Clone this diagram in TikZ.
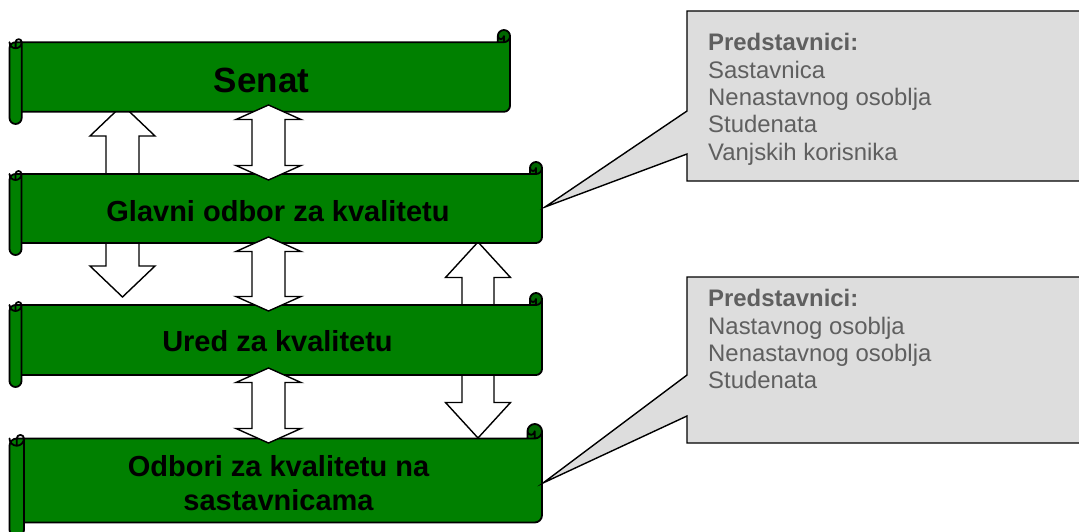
\documentclass[tikz,border=0pt]{standalone}
\usepackage{fontspec}
\setmainfont{Liberation Sans}
\definecolor{scrollgreen}{HTML}{008000}
\definecolor{curlgreen}{HTML}{006600}
\definecolor{callgray}{HTML}{DDDDDD}
\definecolor{calltextgray}{HTML}{5F5F5F}
\tikzset{
  scrollfill/.style={fill=scrollgreen},
  curlfill/.style={fill=curlgreen},
  scrolldraw/.style={draw=black, line width=1.8pt, line join=round, line cap=round},
  blockarrow/.style={fill=white, draw=black, line width=1.4pt, line join=miter},
  callout/.style={fill=callgray, draw=black, line width=1.4pt},
  scrolltext/.style={font=\bfseries\fontsize{29}{33.3}\selectfont, text=black, inner sep=0pt, align=center},
  calltext/.style={font=\fontsize{23.9}{27.35}\selectfont, text=calltextgray, inner sep=0pt, align=left},
}
% horizontal scroll: left, top, right, bottom, roll size (y grows downward)
\newcommand\myscroll[5]{%
  \pgfmathsetmacro\sL{#1}%
  \pgfmathsetmacro\sR{#3}%
  \pgfmathsetmacro\sH{#5/2}%
  \pgfmathsetmacro\sQ{#5/4}%
  \pgfmathsetmacro\yA{#2+#5/2}%
  \pgfmathsetmacro\yC{#2+#5}%
  \pgfmathsetmacro\yD{#2+1.5*#5}%
  \pgfmathsetmacro\yF{#4-1.5*#5}%
  \pgfmathsetmacro\yS{#4-#5}%
  \pgfmathsetmacro\yG{#4-#5/2}%
  \pgfmathsetmacro\xA{#1+#5/2}%
  \pgfmathsetmacro\xC{#1+#5}%
  \pgfmathsetmacro\xT{#3-#5}%
  \pgfmathsetmacro\xF{#3-#5/2}%
  \fill[scrollfill] (\sR,\yA) arc[start angle=0,delta angle=90,radius=\sH] -- (\xF,\yA)
    arc[start angle=0,delta angle=180,radius=\sQ] -- (\xT,\yC) -- (\xA,\yC)
    arc[start angle=270,delta angle=-90,radius=\sH] -- (\sL,\yG)
    arc[start angle=180,delta angle=-180,radius=\sH] -- (\xC,\yS) -- (\xF,\yS)
    arc[start angle=90,delta angle=-90,radius=\sH] -- cycle;
  \fill[curlfill] (\xF,\yA) circle[radius=\sH];
  \draw[scrolldraw] (\sL,\yD) arc[start angle=180,delta angle=90,radius=\sH] -- (\xT,\yC) -- (\xT,\yA)
    arc[start angle=180,delta angle=180,radius=\sH] -- (\sR,\yF)
    arc[start angle=0,delta angle=90,radius=\sH] -- (\xC,\yS) -- (\xC,\yG)
    arc[start angle=0,delta angle=180,radius=\sH] -- cycle
    (\xT,\yC) -- (\xF,\yC) arc[start angle=90,delta angle=-90,radius=\sH]
    (\xF,\yC) -- (\xF,\yA) arc[start angle=0,delta angle=180,radius=\sQ]
    (\xA,\yD) -- (\xA,\yC) arc[start angle=180,delta angle=180,radius=\sQ]
      arc[start angle=0,delta angle=180,radius=\sH]
    (\xC,\yC) -- (\xC,\yS);
}
% double block arrow: cx, half shaft, half head, top tip, bottom tip, head length
\newcommand\dblarrow[6]{%
  \draw[blockarrow] (#1,#4) -- ({#1+#3},{#4+#6}) -- ({#1+#2},{#4+#6}) -- ({#1+#2},{#5-#6})
    -- ({#1+#3},{#5-#6}) -- (#1,#5) -- ({#1-#3},{#5-#6}) -- ({#1-#2},{#5-#6})
    -- ({#1-#2},{#4+#6}) -- ({#1-#3},{#4+#6}) -- cycle;}
% single block arrow: cx, half shaft, half head, tip, head base, tail
\newcommand\onearrow[6]{%
  \draw[blockarrow] (#1,#4) -- ({#1+#3},#5) -- ({#1+#2},#5) -- ({#1+#2},#6)
    -- ({#1-#2},#6) -- ({#1-#2},#5) -- ({#1-#3},#5) -- cycle;}
\begin{document}
\begin{tikzpicture}[x=1pt,y=-1pt]
\path[use as bounding box] (0,0) rectangle (1079,532);
\clip (0,0) rectangle (1079,532);
% arrows lying behind the scrolls
\onearrow{122.5}{16.5}{32.5}{105}{136}{185}
\onearrow{122.5}{16.5}{32.5}{297}{266}{235}
\dblarrow{478}{16}{32.5}{242}{438}{35.5}
% scrolls
\myscroll{9.5}{30}{510}{124}{12.2}
\myscroll{9.5}{162}{542}{255}{12}
\myscroll{9.5}{293}{542}{387}{12}
\myscroll{9.5}{424}{542}{537}{14.5}
% arrows lying on top
\dblarrow{268.5}{16.5}{32.5}{105}{180}{14.5}
\dblarrow{268.5}{16.5}{32.5}{237}{311}{14.5}
\dblarrow{268.5}{16.5}{32.5}{368}{443}{14.5}
% scroll texts
\node[scrolltext, font=\bfseries\fontsize{35}{40}\selectfont, anchor=base] (senat) at (261.5,93) {Senat};
\node[scrolltext, anchor=base] (glavni) at (278,221.7) {Glavni odbor za kvalitetu};
\node[scrolltext, anchor=base] (ured) at (277.5,351.7) {Ured za kvalitetu};
\node[scrolltext, anchor=base] (odbori) at (278.5,510) {Odbori za kvalitetu na\\sastavnicama};
% callouts
\draw[callout] (687,11) -- (1090,11) -- (1090,181) -- (687,181) -- (687,154) -- (545,207) -- (687,111) -- cycle;
\draw[callout] (687,277) -- (1090,277) -- (1090,443) -- (687,443) -- (687,416) -- (543,483) -- (687,375) -- cycle;
\node[calltext, anchor=base west] (rep1) at (708,160.2) {\textbf{Predstavnici:}\\Sastavnica\\Nenastavnog osoblja\\Studenata\\Vanjskih korisnika};
\node[calltext, anchor=base west] (rep2) at (708,388.9) {\textbf{Predstavnici:}\\Nastavnog osoblja\\Nenastavnog osoblja\\Studenata};
\end{tikzpicture}
\end{document}
